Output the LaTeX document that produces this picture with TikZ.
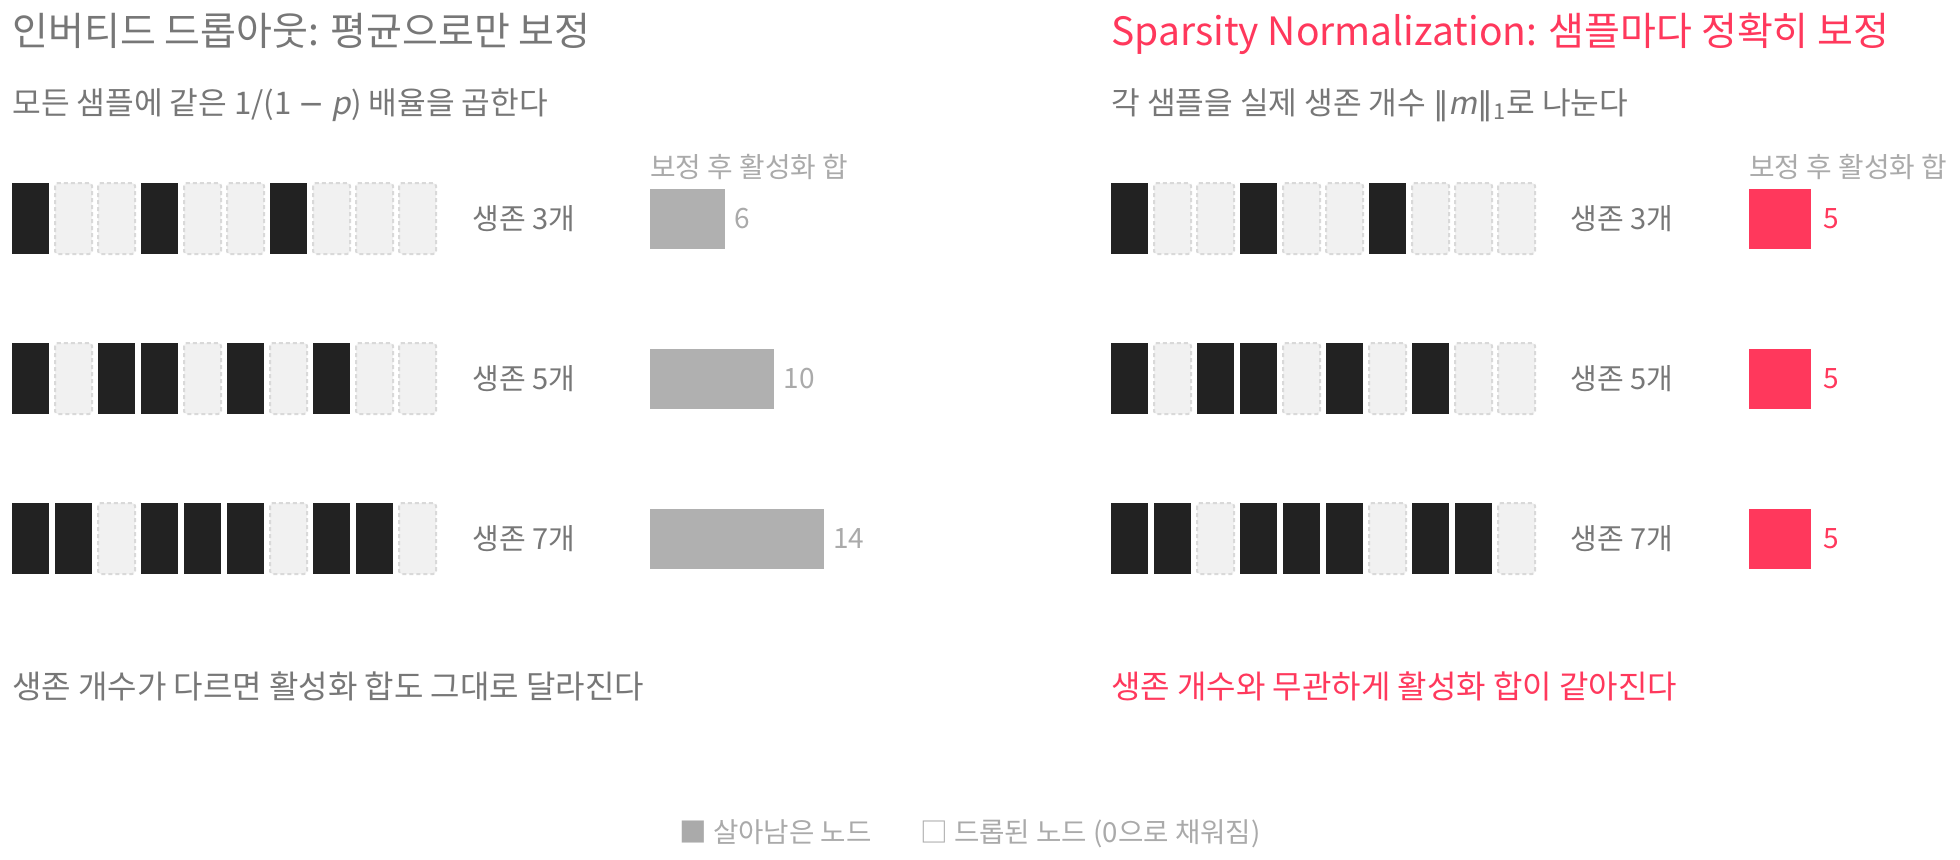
\documentclass[tikz,border=0pt]{standalone}
\usepackage{fontspec}
\setmainfont{Noto Sans CJK KR}[ItalicFont={Noto Sans CJK KR}, ItalicFeatures={FakeSlant=0.2}]
\newfontfamily\symfont{DejaVu Sans}
\usetikzlibrary{positioning}

\definecolor{inkgray}{HTML}{777777}
\definecolor{softgray}{HTML}{AAAAAA}
\definecolor{bargray}{HTML}{B0B0B0}
\definecolor{alivefill}{HTML}{222222}
\definecolor{dropfill}{HTML}{F1F1F1}
\definecolor{dropline}{HTML}{D9D9D9}
\definecolor{accent}{HTML}{FF385C}

\tikzset{
  txt/.style={anchor=base west, inner sep=0pt},
  ttl/.style={txt, font=\fontsize{19.5}{23}\selectfont},
  sub/.style={txt, font=\fontsize{15.6}{18}\selectfont, text=inkgray},
  note/.style={txt, font=\fontsize{16}{19}\selectfont, text=inkgray},
  head/.style={txt, font=\fontsize{13.9}{16}\selectfont, text=softgray},
  lbl/.style={txt, font=\fontsize{14.5}{17}\selectfont, text=inkgray},
  key/.style={txt, font=\fontsize{13.8}{16}\selectfont, text=softgray},
  val/.style={anchor=west, inner sep=0pt, font=\fontsize{14}{17}\selectfont},
  bar/.style={anchor=west, inner sep=0pt, minimum height=30pt},
  alive/.style={fill=alivefill},
  dropped/.style={fill=dropfill, draw=dropline, line width=1pt, dash pattern=on 2pt off 1.5pt, rounded corners=1.5pt}
}

\begin{document}
\begin{tikzpicture}[x=0.5pt, y=-0.5pt]
\useasboundingbox (0,0) rectangle (1960,859);
\fill[white] (0,0) rectangle (1960,859);

% headings
\node[ttl, text=inkgray] (ltitle) at (12,45) {인버티드 드롭아웃: 평균으로만 보정};
\node[ttl, text=accent] (rtitle) at (1111,45) {Sparsity Normalization: 샘플마다 정확히 보정};
\node[sub] (lsub) at (12,114) {모든 샘플에 같은 1/(1 {\symfont −} \textit{p}) 배율을 곱한다};
\node[sub] (rsub) at (1111,114) {각 샘플을 실제 생존 개수 {\symfont ‖}\textit{m}{\symfont ‖}\textsubscript{1}로 나눈다};
\node[head] (lhead) at (650,177) {보정 후 활성화 합};
\node[head] (rhead) at (1749,177) {보정 후 활성화 합};

% masks, 1 = kept
\foreach \px in {12,1111} {
  \foreach \r/\pat in {0/{1,0,0,1,0,0,1,0,0,0}, 1/{1,0,1,1,0,1,0,1,0,0}, 2/{1,1,0,1,1,1,0,1,1,0}} {
    \foreach \a [count=\i from 0] in \pat {
      \ifnum\a=1
        \fill[alive] (\px+43*\i, 183+160*\r) rectangle ++(37,71);
      \else
        \draw[dropped] (\px+43*\i, 183+160*\r) rectangle ++(37,71);
      \fi
    }
  }
}

% counts and sums
\foreach \r/\n in {0/3, 1/5, 2/7} {
  \pgfmathtruncatemacro{\s}{2*\n}
  \node[lbl] (llab\r) at (472, 229+160*\r) {생존 {\n}개};
  \node[lbl] (rlab\r) at (1570, 229+160*\r) {생존 {\n}개};
  \node[bar, fill=bargray, minimum width=\n*12.37pt] (lbar\r) at (650, 219+160*\r) {};
  \node[val, text=softgray, right=4.5pt of lbar\r] (lval\r) {\s};
  \node[bar, fill=accent, minimum width=30.9pt] (rbar\r) at (1749, 219+160*\r) {};
  \node[val, text=accent, right=5.5pt of rbar\r] (rval\r) {5};
}

% notes
\node[note] (lnote) at (12,698) {생존 개수가 다르면 활성화 합도 그대로 달라진다};
\node[note, text=accent] (rnote) at (1111,698) {생존 개수와 무관하게 활성화 합이 같아진다};

% legend
\node[key] (keyalive) at (679,842) {■ 살아남은 노드};
\node[key] (keydrop) at (920,842) {□ 드롭된 노드 (0으로 채워짐)};

\end{tikzpicture}
\end{document}
